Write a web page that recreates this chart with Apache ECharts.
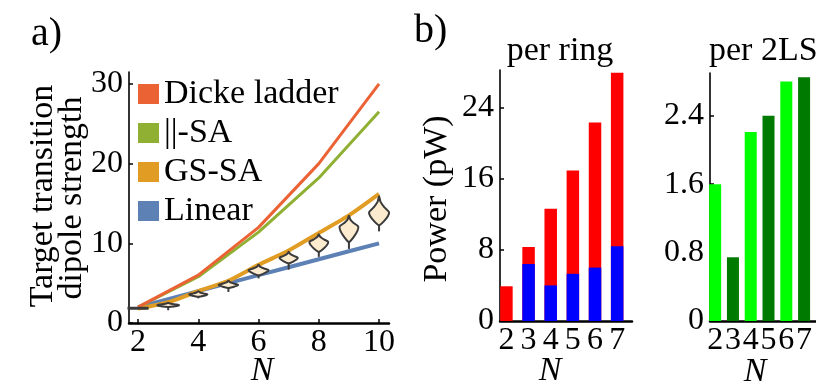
<!DOCTYPE html>
<html><head><meta charset="utf-8">
<script src="https://cdn.jsdelivr.net/npm/echarts@6/dist/echarts.min.js"></script>
<style>html,body{margin:0;padding:0;background:#fff}#c{width:816px;height:387px}</style>
</head><body><div id="c"></div>
<script>
// ---------- panel a data ----------
const nAll = [2,3,4,5,6,7,8,9,10];
const nEven = [2,4,6,8,10];
const dickeLadder = [2,6,12,20,30];
const parallelSA = [2,5.8,11.4,18.2,26.5];
const gsSA = [1.8,2.6,4.0,5.3,7.3,9.1,11.3,13.5,16.2];
const linearN = [2,3,4,5,6,7,8,9,10];
const violinTop = [1.85,2.55,4.0,5.3,7.3,8.95,11.15,13.45,15.9];
const violinMode = [1.85,2.25,3.6,4.8,6.65,8.2,10.2,12.1,13.9];
const violinNeck = [1.85,2.0,3.3,4.4,6.0,7.5,8.95,10.2,12.3];
const violinMin = [1.85,1.6,3.1,3.9,5.6,6.7,8.3,9.3,11.5];
const violinHalfWidth = [0.35,0.36,0.3,0.32,0.33,0.3,0.31,0.31,0.33];
const ticksAX = [2,4,6,8,10];
const ticksAY = [0,10,20,30];
// ---------- panel b data ----------
const nB = [2,3,4,5,6,7];
const ringTotal = [3.9,8.3,12.6,16.9,22.3,27.9];
const ringBlue = [0,6.4,4.0,5.3,6.0,8.4];
const per2LS = [1.6,0.745,2.21,2.40,2.80,2.85];
const ticksBY1 = [0,8,16,24];
const ticksBY2 = [0,0.8,1.6,2.4];

const FONT = 'Liberation Serif';
const tickFont = {fontFamily:FONT, fontSize:32, color:'#000'};
const axLine = (w)=>({show:true, onZero:false, lineStyle:{color:'#000', width:w}});
const tick = (vals)=>({show:true, inside:true, length:4, customValues:vals, lineStyle:{color:'#000', width:1.5}});

function xAx(grid, min, max, vals){
  return {type:'value', gridIndex:grid, min, max, axisLine:axLine(2.5), axisTick:tick(vals),
    axisLabel:Object.assign({customValues:vals, margin:4}, tickFont), splitLine:{show:false}};
}
function yAx(grid, min, max, vals, fmt){
  return {type:'value', gridIndex:grid, min, max, axisLine:axLine(1.6), axisTick:tick(vals),
    axisLabel:Object.assign({customValues:vals, margin:6, formatter:fmt}, tickFont), splitLine:{show:false}};
}

const violinData = nAll.map((n,i)=>[n, violinTop[i], violinMode[i], violinNeck[i], violinMin[i], violinHalfWidth[i]]);

function renderViolin(params, api){
  const n = api.value(0), top = api.value(1), mode = api.value(2), neck = api.value(3), mn = api.value(4), w = api.value(5);
  const P = (dx,y)=>api.coord([n+dx,y]);
  const stroke = '#3a3a3a';
  if (top - mn < 0.01){
    const a = P(-w, top), b = P(w, top);
    return {type:'line', shape:{x1:a[0],y1:a[1],x2:b[0],y2:b[1]}, style:{stroke, lineWidth:3}};
  }
  const d1 = top-mode, d2 = mode-neck;
  const right = [[0,top],[0.15*w, top-0.35*d1],[0.55*w, top-0.7*d1],[w, mode],[0.9*w, mode-0.3*d2],[0.5*w, mode-0.7*d2],[0.08*w, neck]];
  const pts = right.map(p=>P(p[0],p[1]));
  for (let k=right.length-1;k>=1;k--) pts.push(P(-right[k][0], right[k][1]));
  const s0 = P(0, neck), s1 = P(0, mn);
  return {type:'group', children:[
    {type:'line', shape:{x1:s0[0],y1:s0[1],x2:s1[0],y2:s1[1]}, style:{stroke, lineWidth:2}},
    {type:'polygon', shape:{points:pts, smooth:0.3}, style:{fill:'#fdebd0', stroke, lineWidth:2}}
  ]};
}

const chart = echarts.init(document.getElementById('c'), null, {renderer:'canvas'});
chart.setOption({
  animation:false,
  backgroundColor:'#fff',
  grid:[
    {left:129, top:72, width:260, height:251},
    {left:500, top:70, width:132, height:251},
    {left:710, top:73, width:124, height:248}
  ],
  xAxis:[
    xAx(0, 1.7, 10.33, ticksAX),
    xAx(1, 1.71, 7.67, nB),
    xAx(2, 1.71, 7.67, nB)
  ],
  yAxis:[
    yAx(0, 0, 31.5, ticksAY),
    yAx(1, 0, 28.2, ticksBY1),
    yAx(2, 0, 2.9, ticksBY2, v=> v===0 ? '0' : v.toFixed(1))
  ],
  legend:{
    left:138, top:77, padding:0, orient:'vertical', icon:'rect', itemWidth:21, itemHeight:20, itemGap:5,
    textStyle:{fontFamily:FONT, fontSize:34, color:'#000'},
    data:['Dicke ladder','||-SA','GS-SA','Linear']
  },
  series:[
    {name:'Linear', type:'line', xAxisIndex:0, yAxisIndex:0, data:nAll.map((n,i)=>[n,linearN[i]]), showSymbol:false, lineStyle:{color:'#5e81b5', width:4}, itemStyle:{color:'#5e81b5'}, z:2},
    {name:'GS-SA', type:'line', xAxisIndex:0, yAxisIndex:0, data:nAll.map((n,i)=>[n,gsSA[i]]), showSymbol:false, smooth:0.2, lineStyle:{color:'#e19c24', width:4}, itemStyle:{color:'#e19c24'}, z:3},
    {name:'||-SA', type:'line', xAxisIndex:0, yAxisIndex:0, data:nEven.map((n,i)=>[n,parallelSA[i]]), showSymbol:false, lineStyle:{color:'#8fb032', width:3}, itemStyle:{color:'#8fb032'}, z:4},
    {name:'Dicke ladder', type:'line', xAxisIndex:0, yAxisIndex:0, data:nEven.map((n,i)=>[n,dickeLadder[i]]), showSymbol:false, lineStyle:{color:'#eb6235', width:3}, itemStyle:{color:'#eb6235'}, z:5},
    {name:'violins', type:'custom', xAxisIndex:0, yAxisIndex:0, data:violinData, renderItem:renderViolin, z:6, clip:false},
    {name:'ringTotal', type:'bar', xAxisIndex:1, yAxisIndex:1, data:nB.map((n,i)=>[n,ringTotal[i]]), barWidth:12.5, barGap:'-100%', itemStyle:{color:'#ff0000'}},
    {name:'ringBlue', type:'bar', xAxisIndex:1, yAxisIndex:1, data:nB.map((n,i)=>[n,ringBlue[i]]), barWidth:12.5, barGap:'-100%', itemStyle:{color:'#0000ff'}},
    {name:'per2LS', type:'bar', xAxisIndex:2, yAxisIndex:2, data:nB.map((n,i)=>[n,per2LS[i]]), barWidth:12, itemStyle:{color:(p)=> p.dataIndex%2===0 ? '#00ff00' : '#007a00'}}
  ],
  graphic:[
    {type:'text', style:{x:31, y:34, text:'a)', font:'40px "Liberation Serif"', fill:'#000', textVerticalAlign:'middle'}},
    {type:'text', style:{x:414, y:31, text:'b)', font:'40px "Liberation Serif"', fill:'#000', textVerticalAlign:'middle'}},
    {type:'text', style:{x:560, y:51, text:'per ring', font:'34px "Liberation Serif"', fill:'#000', textAlign:'center', textVerticalAlign:'middle'}},
    {type:'text', style:{x:709, y:51, text:'per 2LS', font:'34px "Liberation Serif"', fill:'#000', textAlign:'left', textVerticalAlign:'middle'}},
    {type:'text', x:43, y:196, rotation:Math.PI/2, style:{x:0, y:0, text:'Target transition', font:'34px "Liberation Serif"', fill:'#000', textAlign:'center', textVerticalAlign:'middle'}},
    {type:'text', x:72, y:198, rotation:Math.PI/2, style:{x:0, y:0, text:'dipole strength', font:'34px "Liberation Serif"', fill:'#000', textAlign:'center', textVerticalAlign:'middle'}},
    {type:'text', x:437, y:199, rotation:Math.PI/2, style:{x:0, y:0, text:'Power (pW)', font:'34px "Liberation Serif"', fill:'#000', textAlign:'center', textVerticalAlign:'middle'}},
    {type:'text', style:{x:262, y:371, text:'N', font:'italic 34px "Liberation Serif"', fill:'#000', textAlign:'center', textVerticalAlign:'middle'}},
    {type:'text', style:{x:550, y:371, text:'N', font:'italic 34px "Liberation Serif"', fill:'#000', textAlign:'center', textVerticalAlign:'middle'}},
    {type:'text', style:{x:755, y:372, text:'N', font:'italic 34px "Liberation Serif"', fill:'#000', textAlign:'center', textVerticalAlign:'middle'}}
  ]
});
</script>
</body></html>
